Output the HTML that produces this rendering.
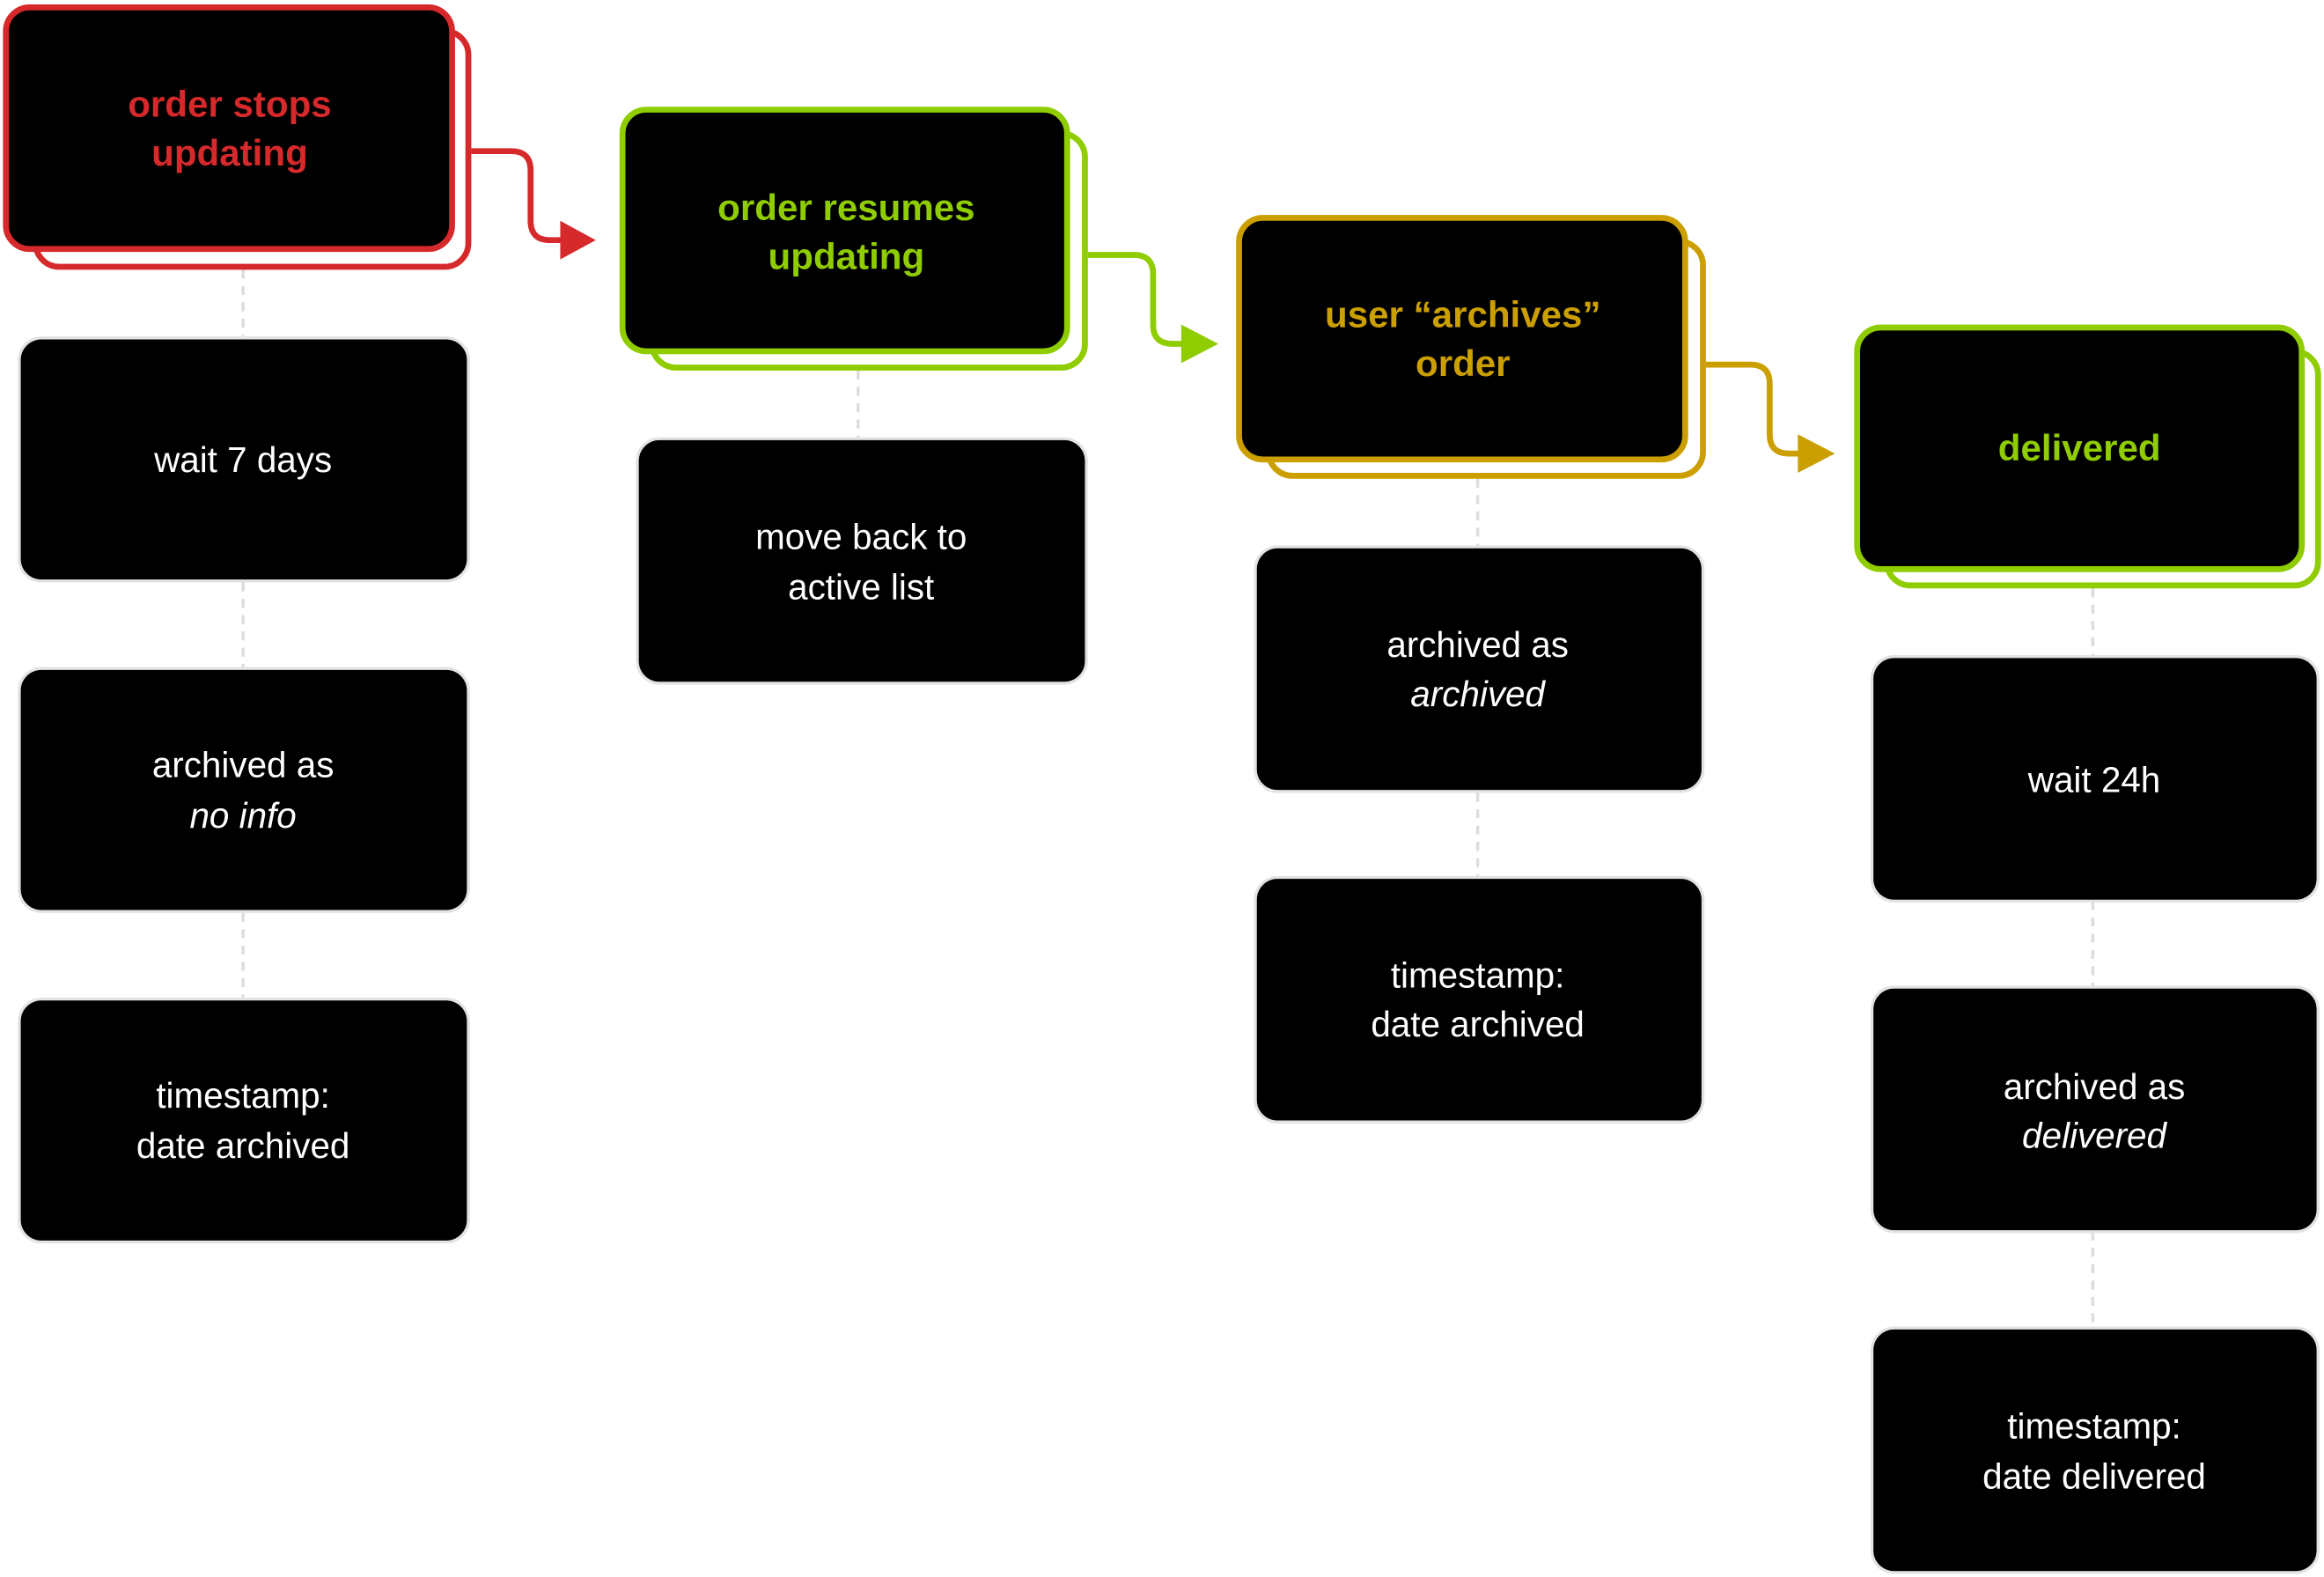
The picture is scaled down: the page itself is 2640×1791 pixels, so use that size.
<!DOCTYPE html>
<html><head><meta charset="utf-8"><style>
html,body{margin:0;padding:0;background:#fff}
svg{display:block}
.t{font-family:"Liberation Sans Narrow","Liberation Sans",sans-serif;font-weight:bold;font-size:25px;text-anchor:middle;dominant-baseline:central}
.b{font-family:"Liberation Sans",sans-serif;font-size:24px;fill:#fff;text-anchor:middle;dominant-baseline:central}
.i{font-style:italic}
.g{fill:#000;stroke:#e3e3e3;stroke-width:2}
.d{stroke:#dcdcdc;stroke-width:2;stroke-dasharray:6 5;fill:none}
</style></head><body>
<svg width="2640" height="1791" viewBox="0 0 1568 1064" preserveAspectRatio="none" xmlns="http://www.w3.org/2000/svg">
<!-- dashes -->
<path class="d" d="M164 182V227M164 393V450M164 616V673M579 250V295M997 323V368M997 535V591M1412 397V442M1412 608V665M1412 831V895"/>

<!-- red -->
<rect x="24" y="21" width="292" height="159" rx="16" fill="#fff" stroke="#d6292b" stroke-width="4"/>
<rect x="4" y="5" width="301" height="163" rx="16" fill="#000" stroke="#d6292b" stroke-width="4"/>
<text class="t" x="155" y="70" fill="#d6292b">order stops</text>
<text class="t" x="155" y="103" fill="#d6292b">updating</text>
<path d="M318 102H345Q358 102 358 115V149Q358 162 371 162H380" fill="none" stroke="#d6292b" stroke-width="4"/>
<polygon points="378,149 402,162 378,175" fill="#d6292b"/>

<rect class="g" x="13" y="228" width="303" height="164" rx="15"/>
<text class="b" x="164" y="310">wait 7 days</text>
<rect class="g" x="13" y="451" width="303" height="164" rx="15"/>
<text class="b" x="164" y="516">archived as</text>
<text class="b i" x="164" y="550">no info</text>
<rect class="g" x="13" y="674" width="303" height="164" rx="15"/>
<text class="b" x="164" y="739">timestamp:</text>
<text class="b" x="164" y="773">date archived</text>

<!-- green 1 -->
<rect x="440" y="90" width="292" height="158" rx="16" fill="#fff" stroke="#8fcc00" stroke-width="4"/>
<rect x="420" y="74" width="300" height="163" rx="16" fill="#000" stroke="#8fcc00" stroke-width="4"/>
<text class="t" x="571" y="140" fill="#8fcc00">order resumes</text>
<text class="t" x="571" y="173" fill="#8fcc00">updating</text>
<path d="M734 172H765Q778 172 778 185V219Q778 232 791 232H798" fill="none" stroke="#8fcc00" stroke-width="4"/>
<polygon points="797,219 822,232 797,245" fill="#8fcc00"/>

<rect class="g" x="430" y="296" width="303" height="165" rx="15"/>
<text class="b" x="581" y="362">move back to</text>
<text class="b" x="581" y="396">active list</text>

<!-- gold -->
<rect x="856" y="163" width="293" height="158" rx="16" fill="#fff" stroke="#cc9f00" stroke-width="4"/>
<rect x="836" y="147" width="301" height="163" rx="16" fill="#000" stroke="#cc9f00" stroke-width="4"/>
<text class="t" x="987" y="212" fill="#cc9f00">user “archives”</text>
<text class="t" x="987" y="245" fill="#cc9f00">order</text>
<path d="M1151 246H1181Q1194 246 1194 259V293Q1194 306 1207 306H1214" fill="none" stroke="#cc9f00" stroke-width="4"/>
<polygon points="1213,293 1238,306 1213,319" fill="#cc9f00"/>

<rect class="g" x="847" y="369" width="302" height="165" rx="15"/>
<text class="b" x="997" y="435">archived as</text>
<text class="b i" x="997" y="468">archived</text>
<rect class="g" x="847" y="592" width="302" height="165" rx="15"/>
<text class="b" x="997" y="658">timestamp:</text>
<text class="b" x="997" y="691">date archived</text>

<!-- delivered -->
<rect x="1273" y="237" width="291" height="158" rx="16" fill="#fff" stroke="#8fcc00" stroke-width="4"/>
<rect x="1253" y="221" width="300" height="163" rx="16" fill="#000" stroke="#8fcc00" stroke-width="4"/>
<text class="t" x="1403" y="302" fill="#8fcc00">delivered</text>

<rect class="g" x="1263" y="443" width="301" height="165" rx="15"/>
<text class="b" x="1413" y="526">wait 24h</text>
<rect class="g" x="1263" y="666" width="301" height="165" rx="15"/>
<text class="b" x="1413" y="733">archived as</text>
<text class="b i" x="1413" y="766">delivered</text>
<rect class="g" x="1263" y="896" width="301" height="165" rx="15"/>
<text class="b" x="1413" y="962">timestamp:</text>
<text class="b" x="1413" y="996">date delivered</text>
</svg>
</body></html>
